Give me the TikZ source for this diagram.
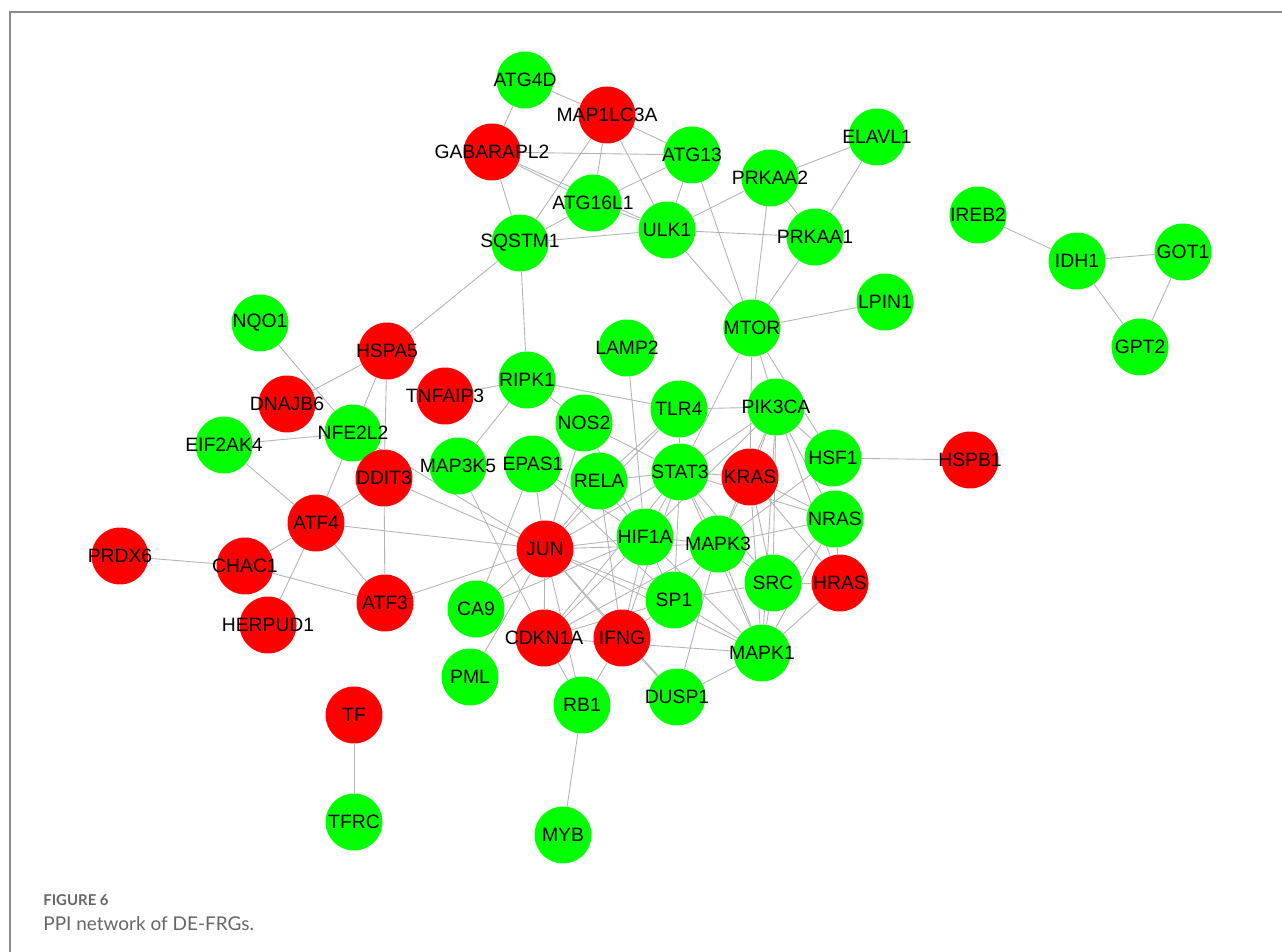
\documentclass[tikz,border=0pt]{standalone}
\usepackage{fontspec}
\setmainfont{Liberation Sans}
\newfontfamily\capfont{Lato}
\usepackage{xcolor}
\usepackage{tikz}
\usetikzlibrary{backgrounds}

\definecolor{upred}{HTML}{FF0000}
\definecolor{downgreen}{HTML}{00FF00}
\definecolor{edgegray}{HTML}{B4B4B4}
\definecolor{framegray}{HTML}{8C8C8C}
\definecolor{captiongray}{HTML}{666666}

\tikzset{
  gene/.style={circle, minimum size=1.14cm, inner sep=0pt, label={center:#1}},
  upgene/.style={gene=#1, fill=upred},
  downgene/.style={gene=#1, fill=downgreen},
  every label/.style={font=\fontsize{11}{13}\selectfont, inner sep=0pt},
  ppi/.style={draw=edgegray, line width=0.5pt}
}

\begin{document}
\begin{tikzpicture}[x=0.02cm, y=-0.02cm]
    \useasboundingbox (0,0) rectangle (1282,952);
    \draw [framegray, line width=0.8pt] (10,952) -- (10,12) -- (1282,12);

    % autophagy cluster
    \node (ATG4D) [downgene=ATG4D] at (525,80) {};
    \node (MAP1LC3A) [upgene=MAP1LC3A] at (607,115) {};
    \node (GABARAPL2) [upgene=GABARAPL2] at (492,152) {};
    \node (ATG13) [downgene=ATG13] at (692,155) {};
    \node (ELAVL1) [downgene=ELAVL1] at (877,137) {};
    \node (PRKAA2) [downgene=PRKAA2] at (770,178) {};
    \node (ATG16L1) [downgene=ATG16L1] at (593,203) {};
    \node (ULK1) [downgene=ULK1] at (667,230) {};
    \node (PRKAA1) [downgene=PRKAA1] at (815,237) {};
    \node (SQSTM1) [downgene=SQSTM1] at (520,243) {};
    \node (MTOR) [downgene=MTOR] at (752,328) {};
    \node (LPIN1) [downgene=LPIN1] at (885,302) {};

    % iron cluster
    \node (IREB2) [downgene=IREB2] at (978,215) {};
    \node (IDH1) [downgene=IDH1] at (1077,261) {};
    \node (GOT1) [downgene=GOT1] at (1183,252) {};
    \node (GPT2) [downgene=GPT2] at (1140,347) {};

    % stress cluster
    \node (NQO1) [downgene=NQO1] at (260,323) {};
    \node (HSPA5) [upgene=HSPA5] at (387,351) {};
    \node (TNFAIP3) [upgene=TNFAIP3] at (445,396) {};
    \node (DNAJB6) [upgene=DNAJB6] at (287,404) {};
    \node (NFE2L2) [downgene=NFE2L2] at (353,433) {};
    \node (EIF2AK4) [downgene=EIF2AK4] at (224,445) {};
    \node (DDIT3) [upgene=DDIT3] at (384,478) {};
    \node (ATF4) [upgene=ATF4] at (316,523) {};
    \node (PRDX6) [upgene=PRDX6] at (120,556) {};
    \node (CHAC1) [upgene=CHAC1] at (245,566) {};
    \node (ATF3) [upgene=ATF3] at (385,603) {};
    \node (HERPUD1) [upgene=HERPUD1] at (268,625) {};

    % signalling core
    \node (RIPK1) [downgene=RIPK1] at (527,380) {};
    \node (LAMP2) [downgene=LAMP2] at (627,348) {};
    \node (TLR4) [downgene=TLR4] at (679,409) {};
    \node (PIK3CA) [downgene=PIK3CA] at (776,407) {};
    \node (NOS2) [downgene=NOS2] at (584,423) {};
    \node (MAP3K5) [downgene=MAP3K5] at (458,466) {};
    \node (EPAS1) [downgene=EPAS1] at (533,464) {};
    \node (RELA) [downgene=RELA] at (599,481) {};
    \node (STAT3) [downgene=STAT3] at (680,472) {};
    \node (KRAS) [upgene=KRAS] at (750,477) {};
    \node (HSF1) [downgene=HSF1] at (833,458) {};
    \node (HSPB1) [upgene=HSPB1] at (970,460) {};
    \node (NRAS) [downgene=NRAS] at (835,519) {};
    \node (HIF1A) [downgene=HIF1A] at (645,537) {};
    \node (MAPK3) [downgene=MAPK3] at (718,544) {};
    \node (JUN) [upgene=JUN] at (545,549) {};
    \node (SRC) [downgene=SRC] at (773,583) {};
    \node (HRAS) [upgene=HRAS] at (840,583) {};
    \node (CA9) [downgene=CA9] at (476,609) {};
    \node (SP1) [downgene=SP1] at (674,600) {};
    \node (CDKN1A) [upgene=CDKN1A] at (544,638) {};
    \node (IFNG) [upgene=IFNG] at (622,638) {};
    \node (MAPK1) [downgene=MAPK1] at (762,653) {};
    \node (PML) [downgene=PML] at (470,677) {};
    \node (RB1) [downgene=RB1] at (582,705) {};
    \node (DUSP1) [downgene=DUSP1] at (677,697) {};
    \node (MYB) [downgene=MYB] at (563,835) {};
    \node (TF) [upgene=TF] at (354,715) {};
    \node (TFRC) [downgene=TFRC] at (354,822) {};

    \begin{scope}[on background layer]
    \draw [ppi] (ATG4D) edge (GABARAPL2) edge (MAP1LC3A);
    \draw [ppi] (MAP1LC3A) edge (ATG13) edge (SQSTM1) edge (ATG16L1) edge (ULK1);
    \draw [ppi] (GABARAPL2) edge (ATG13) edge (ATG16L1) edge (ULK1) edge (SQSTM1);
    \draw [ppi] (ATG13) edge (ATG16L1) edge (ULK1) edge (MTOR);
    \draw [ppi] (ATG16L1) edge (SQSTM1) edge (ULK1);
    \draw [ppi] (ELAVL1) edge (PRKAA2) edge (PRKAA1);
    \draw [ppi] (PRKAA2) edge (ULK1) edge (PRKAA1) edge (MTOR);
    \draw [ppi] (ULK1) edge (PRKAA1) edge (SQSTM1) edge (MTOR);
    \draw [ppi] (PRKAA1) -- (MTOR);
    \draw [ppi] (SQSTM1) edge (HSPA5) edge (RIPK1);
    \draw [ppi] (MTOR) edge (LPIN1) edge (PIK3CA) edge (STAT3) edge (HSF1) edge (KRAS);

    \draw [ppi] (IDH1) edge (IREB2) edge (GOT1) edge (GPT2);
    \draw [ppi] (GOT1) -- (GPT2);
    \draw [ppi] (HSF1) -- (HSPB1);
    \draw [ppi] (TF) -- (TFRC);
    \draw [ppi] (RB1) -- (MYB);

    \draw [ppi] (NQO1) -- (NFE2L2);
    \draw [ppi] (HSPA5) edge (DNAJB6) edge (NFE2L2) edge (DDIT3);
    \draw [ppi] (EIF2AK4) edge (NFE2L2) edge (ATF4);
    \draw [ppi] (NFE2L2) edge (ATF4) edge (DDIT3) edge (JUN);
    \draw [ppi] (DDIT3) edge (ATF4) edge (ATF3) edge (JUN);
    \draw [ppi] (ATF4) edge (JUN) edge (CHAC1) edge (HERPUD1) edge (ATF3);
    \draw [ppi] (CHAC1) edge (PRDX6) edge (ATF3);
    \draw [ppi] (ATF3) -- (JUN);
    \draw [ppi] (RIPK1) edge (TNFAIP3) edge (MAP3K5) edge (TLR4) edge (NOS2);
    \draw [ppi] (MAP3K5) -- (CDKN1A);

    \draw [ppi] (NOS2) edge (STAT3) edge (JUN) edge (HIF1A);
    \draw [ppi] (LAMP2) -- (HIF1A);
    \draw [ppi] (TLR4) edge (PIK3CA) edge (STAT3) edge (RELA) edge (JUN);
    \draw [ppi] (EPAS1) edge (JUN) edge (HIF1A) edge (CA9) edge (SP1);
    \draw [ppi] (RELA) edge (JUN) edge (STAT3) edge (HIF1A) edge (IFNG);
    \draw [ppi] (JUN) edge (STAT3) edge (HIF1A) edge (MAPK3) edge (SP1) edge (MAPK1)
        edge (CDKN1A) edge (IFNG) edge (CA9) edge (PML) edge (DUSP1) edge (RB1);
    \draw [ppi] (CA9) -- (HIF1A);
    \draw [ppi] (CDKN1A) edge (HIF1A) edge (STAT3) edge (SP1) edge (RB1) edge (MAPK1) edge (MAPK3);
    \draw [ppi] (IFNG) edge (STAT3) edge (RB1) edge (DUSP1) edge (HIF1A) edge (SP1);
    \draw [ppi] (SP1) edge (HIF1A) edge (STAT3) edge (MAPK3) edge (SRC) edge (MAPK1);
    \draw [ppi] (DUSP1) edge (MAPK1) edge (MAPK3);
    \draw [ppi] (HIF1A) edge (STAT3) edge (MAPK3) edge (MAPK1) edge (PIK3CA);
    \draw [ppi] (STAT3) edge (PIK3CA) edge (KRAS) edge (MAPK3) edge (SRC) edge (MAPK1) edge (NRAS);
    \draw [ppi] (MAPK3) edge (MAPK1) edge (SRC) edge (KRAS) edge (NRAS) edge (HSF1) edge (PIK3CA);
    \draw [ppi] (PIK3CA) edge (KRAS) edge (HSF1) edge (NRAS) edge (SRC) edge (MAPK1) edge (HRAS);
    \draw [ppi] (KRAS) edge (NRAS) edge (SRC) edge (MAPK1) edge (HRAS);
    \draw [ppi] (NRAS) edge (SRC) edge (MAPK1) edge (HRAS);
    \draw [ppi] (SRC) edge (HRAS) edge (MAPK1);
    \draw [ppi] (HRAS) -- (MAPK1);
    \end{scope}

    % caption
    \node (figtag) [anchor=base west, inner sep=0pt, text=captiongray, font=\capfont\bfseries\fontsize{8.5}{10}\selectfont] at (43,905) {FIGURE 6};
    \node (figcaption) [anchor=base west, inner sep=0pt, text=captiongray, font=\capfont\fontsize{10.8}{13}\selectfont] at (43,930) {PPI network of DE-FRGs.};
\end{tikzpicture}
\end{document}
